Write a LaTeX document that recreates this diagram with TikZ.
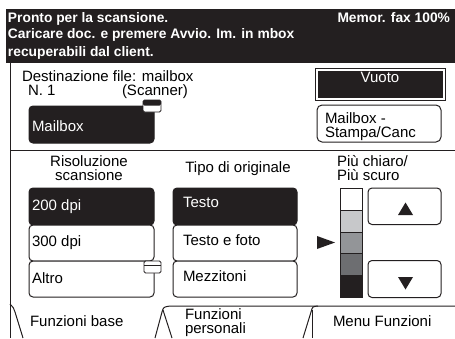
\documentclass[tikz,border=0pt]{standalone}
\usepackage{fontspec}
\setmainfont{Liberation Sans}
\definecolor{ink}{HTML}{231F20}
\definecolor{tone1}{HTML}{C7C8CA}
\definecolor{tone2}{HTML}{939598}
\definecolor{tone3}{HTML}{6D6E71}
\begin{document}
\begin{tikzpicture}[x=1pt,y=-1pt,
  every node/.style={inner sep=0pt, outer sep=0pt},
  txt/.style={anchor=base west, font=\fontsize{15}{15}\selectfont},
  txtc/.style={anchor=base, font=\fontsize{15}{15}\selectfont},
  head/.style={anchor=base west, font=\fontsize{13.8}{14}\selectfont\bfseries, text=white},
  keyw/.style={draw=ink, line width=1pt, rounded corners=4pt, fill=white},
  keyd/.style={keyw, fill=ink},
  rule/.style={draw=ink, line width=1pt},
  icon/.style={draw=ink, line width=0.8pt, fill=white, rounded corners=1.5pt}]
\useasboundingbox (0,0) rectangle (455,338);

% status bar
\fill[ink] (6,9) rectangle (455,63);
\node[head] (h1) at (8,22) {Pronto per la scansione.};
\node[head] (h2) at (8,38) {Caricare doc. e premere Avvio. Im. in mbox};
\node[head] (h3) at (8,56) {recuperabili dal client.};
\node[head, anchor=base east] (mem) at (450,22) {Memor. fax 100\%};

% panel frame
\draw[rule] (10,63) -- (10,338);
\draw[rule] (10,150) -- (455,150);

% destination area
\node[txt] (dest) at (22,81.5) {Destinazione file: mailbox};
\node[txt] (num) at (28,95) {N. 1};
\node[txt] (scn) at (122,95) {(Scanner)};

\draw[keyd] (29,106) rectangle (154,143);
\node[txt, text=white] (mbx) at (32,131) {Mailbox};
\draw[icon] (143,100) rectangle (161,112);
\fill[ink, rounded corners=1.5pt] (143,100) rectangle (161,105.5);

\draw[ink, line width=1pt] (315,68) rectangle (445,100);
\fill[ink] (317.5,70.5) rectangle (442.5,97.5);
\node[txtc, text=white] (vuo) at (380,82) {Vuoto};

\draw[keyw, rounded corners=5pt] (317,105) rectangle (441,142);
\node[txt] (st1) at (325,123) {Mailbox -};
\node[txt] (st2) at (325,137) {Stampa/Canc};

% column headings
\node[txtc] (ris1) at (89,166) {Risoluzione};
\node[txtc] (ris2) at (89,180) {scansione};
\node[txtc] (tipo) at (238,172) {Tipo di originale};
\node[txt] (pc1) at (337,166.5) {Più chiaro/};
\node[txt] (pc2) at (337,180) {Più scuro};

% resolution keys
\draw[keyd] (29,188) rectangle (154,225);
\draw[keyw] (29,225) rectangle (154,261);
\draw[keyw] (29,261) rectangle (154,297);
\node[txt, text=white] (r200) at (32,210) {200 dpi};
\node[txt] (r300) at (32,246.5) {300 dpi};
\node[txt] (ralt) at (32,283) {Altro};
\draw[icon] (144,261) rectangle (161,273);
\draw[ink, line width=0.8pt] (144,265.5) -- (161,265.5);

% original type keys
\draw[keyd] (173,188) rectangle (297,225);
\draw[keyw] (173,225) rectangle (297,261);
\draw[keyw] (173,261) rectangle (297,297);
\node[txt, text=white] (tt) at (183,207.5) {Testo};
\node[txt] (tf) at (183,245) {Testo e foto};
\node[txt] (tm) at (183,281) {Mezzitoni};

% density scale
\filldraw[fill=white, draw=ink, line width=1pt] (340,188) rectangle (362,210.5);
\filldraw[fill=tone1, draw=ink, line width=1pt] (340,210.5) rectangle (362,232);
\filldraw[fill=tone2, draw=ink, line width=1pt] (340,232) rectangle (362,253.5);
\filldraw[fill=tone3, draw=ink, line width=1pt] (340,253.5) rectangle (362,275.5);
\filldraw[fill=ink, draw=ink, line width=1pt] (340,275.5) rectangle (362,297.5);
\fill[ink] (317,236) -- (335,242.5) -- (317,249) -- cycle;

\draw[keyw] (368,188) rectangle (441,224.5);
\fill[ink] (398,215) -- (413,215) -- (405.5,202.5) -- cycle;
\draw[keyw] (368,260.5) rectangle (441,297.5);
\fill[ink] (398,277) -- (413,277) -- (405.5,289.5) -- cycle;

% tabs
\draw[rule] (10,304) .. controls (13,306) and (14,309) .. (15,312) -- (23,338);
\draw[rule] (155,338) -- (162,312) .. controls (163.5,307) .. (170,306) -- (455,306);
\draw[rule] (163,310) -- (172,338);
\draw[rule] (303,338) -- (311,312) .. controls (312.5,306.5) .. (318,306);
\draw[rule] (312,310) -- (312,338);
\node[txt] (tb1) at (30,326) {Funzioni base};
\node[txt] (tb2a) at (185,319) {Funzioni};
\node[txt] (tb2b) at (185,333.5) {personali};
\node[txt] (tb3) at (333,326) {Menu Funzioni};
\end{tikzpicture}
\end{document}
